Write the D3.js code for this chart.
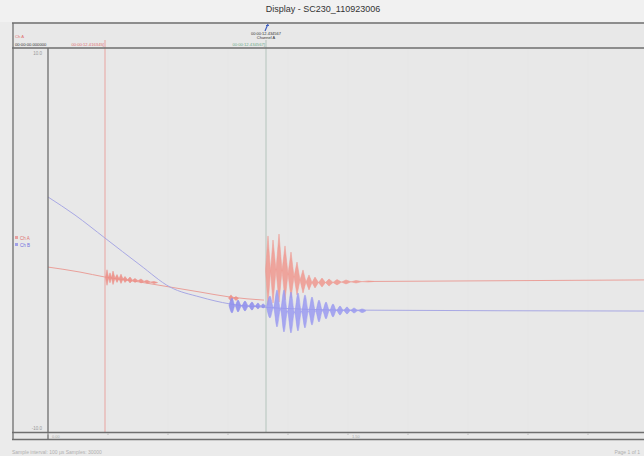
<!DOCTYPE html>
<html><head><meta charset="utf-8">
<script src="https://cdn.jsdelivr.net/npm/d3@7"></script>
<style>html,body{margin:0;padding:0;background:#ebebeb;}svg{display:block;}</style>
</head><body>
<script>
// ---- data (time in ms, value in V) ----
const title = "Display - SC230_110923006";
const yTickLabels = ["10.0", "-10.0"];
const xTickValues = [0, 300, 600, 900, 1200, 1500, 1800, 2100, 2400, 2700];
const xTickLabels = ["0.00", "", "", "", "", "1.50", "", "", "", ""];
const blueTrendT = [0, 135, 285, 460, 610, 760, 910, 1060, 1510, 2980];
const blueTrendV = [2.24, 1.30, 0.10, -1.30, -2.45, -2.97, -3.33, -3.49, -3.65, -3.70];
const redTrendT = [0, 160, 285, 460, 610, 760, 910, 1080];
const redTrendV = [-1.41, -1.67, -1.93, -2.19, -2.45, -2.71, -2.97, -3.13];
const redTailT = [1600, 2980];
const redTailV = [-2.16, -2.08];
// bursts: lobe centre time, lobe top, lobe bottom
const redBurst1T = [295, 310, 325, 345, 365, 385, 410, 435, 465, 495, 530];
const redBurst1Hi = [-1.55, -1.71, -1.62, -1.80, -1.78, -1.90, -1.93, -2.00, -2.03, -2.09, -2.16];
const redBurst1Lo = [-2.36, -2.23, -2.32, -2.21, -2.26, -2.21, -2.24, -2.21, -2.24, -2.25, -2.27];
const redBurst2T = [915, 940];
const redBurst2Hi = [-2.86, -2.94];
const redBurst2Lo = [-3.18, -3.15];
const redBurst3T = [1100, 1125, 1155, 1185, 1215, 1245, 1275, 1305, 1335, 1370, 1405, 1445, 1490, 1540, 1600];
const redBurst3Hi = [0.21, 0.00, 0.31, -0.31, -0.63, -1.15, -1.56, -1.82, -1.93, -1.98, -2.03, -2.06, -2.08, -2.11, -2.13];
const redBurst3Lo = [-3.39, -3.28, -3.23, -3.13, -3.02, -2.86, -2.76, -2.60, -2.50, -2.45, -2.40, -2.34, -2.29, -2.24, -2.19];
const blueBurst1T = [920, 950, 985, 1020, 1050, 1075];
const blueBurst1Hi = [-3.02, -3.13, -3.18, -3.23, -3.28, -3.33];
const blueBurst1Lo = [-3.80, -3.75, -3.70, -3.65, -3.59, -3.54];
const blueBurst2T = [1110, 1145, 1180, 1215, 1250, 1285, 1320, 1355, 1390, 1425, 1460, 1495, 1530, 1570];
const blueBurst2Hi = [-2.92, -2.60, -2.60, -2.71, -2.76, -2.86, -2.97, -3.13, -3.23, -3.33, -3.44, -3.49, -3.54, -3.59];
const blueBurst2Lo = [-4.06, -4.53, -4.79, -4.84, -4.74, -4.58, -4.43, -4.27, -4.11, -4.01, -3.91, -3.85, -3.80, -3.78];
const cursorT = [285, 1090];
const cursorLabels = ["00:00:12.416345[", "00:00:12.434567]"];
const cursorColors = ["#e8a4a0", "#b4c4bc"];
const cursorTextColors = ["#e07070", "#70a888"];

const W = 644, H = 456;
const svg = d3.select("body").append("svg").attr("width", W).attr("height", H)
  .style("font-family", "'Liberation Sans', Arial, sans-serif");

const x = d3.scaleLinear().domain([0, 2980]).range([48, 644]);
const y = d3.scaleLinear().domain([-10, 10]).range([432, 48]);

// backgrounds
svg.append("rect").attr("width", W).attr("height", H).attr("fill", "#ebebeb");
svg.append("rect").attr("x", 0).attr("y", 0).attr("width", W).attr("height", 22).attr("fill", "#f1f1f1");
svg.append("rect").attr("x", 13).attr("y", 23).attr("width", W - 13).attr("height", 417).attr("fill", "#e8e8e8");

svg.append("text").attr("x", 323).attr("y", 12).attr("text-anchor", "middle")
  .attr("font-size", 9).attr("fill", "#333").text(title);

// grid
const g = svg.append("g");
g.selectAll("line.grid").data(xTickValues.slice(1)).join("line")
  .attr("x1", d => x(d)).attr("x2", d => x(d)).attr("y1", 48).attr("y2", 432)
  .attr("stroke", "#e4e4e4").attr("stroke-width", 0.6);

// cursors
cursorT.forEach((t, i) => {
  svg.append("line").attr("x1", x(t)).attr("x2", x(t)).attr("y1", 40).attr("y2", 432)
    .attr("stroke", cursorColors[i]).attr("stroke-width", 1);
  svg.append("text").attr("x", x(t) - 1).attr("y", 45.5).attr("text-anchor", "end")
    .attr("font-size", 4.2).attr("fill", cursorTextColors[i]).text(cursorLabels[i]);
});

// header texts
svg.append("text").attr("x", 15).attr("y", 38).attr("font-size", 4.2).attr("fill", "#e07070").text("Ch A");
svg.append("text").attr("x", 15).attr("y", 45.5).attr("font-size", 4.2).attr("fill", "#333").text("00:00:00.000000");
svg.append("path").attr("d", `M${x(1090)+2},24 l-3,7 M${x(1090)},25.5 l3,0`).attr("stroke", "#4060c0").attr("stroke-width", 1.2).attr("fill", "none");
svg.append("text").attr("x", x(1090)).attr("y", 34.5).attr("text-anchor", "middle").attr("font-size", 4).attr("fill", "#333").text("00:00:12.434567");
svg.append("text").attr("x", x(1090)).attr("y", 38.8).attr("text-anchor", "middle").attr("font-size", 4).attr("fill", "#333").text("Channel A");

// y labels & legend
svg.append("text").attr("x", 42).attr("y", 55).attr("text-anchor", "end").attr("font-size", 4.5).attr("fill", "#999").text(yTickLabels[0]);
svg.append("text").attr("x", 42).attr("y", 430).attr("text-anchor", "end").attr("font-size", 4.5).attr("fill", "#999").text(yTickLabels[1]);
svg.append("rect").attr("x", 15).attr("y", 236).attr("width", 3).attr("height", 3).attr("fill", "#e8a0a0");
svg.append("text").attr("x", 20).attr("y", 239.5).attr("font-size", 4.5).attr("fill", "#e07070").text("Ch A");
svg.append("rect").attr("x", 15).attr("y", 243).attr("width", 3).attr("height", 3).attr("fill", "#a0a0e8");
svg.append("text").attr("x", 20).attr("y", 246.5).attr("font-size", 4.5).attr("fill", "#7070e0").text("Ch B");

// signals
svg.append("clipPath").attr("id", "c").append("rect").attr("x", 48).attr("y", 48).attr("width", 596).attr("height", 384);
const plot = svg.append("g").attr("clip-path", "url(#c)");

const line = d3.line().x(d => x(d[0])).y(d => y(d[1])).curve(d3.curveMonotoneX);
const zip = (a, b) => a.map((v, i) => [v, b[i]]);

function burstArea(T, Hi, Lo, color, curve, op) {
  const pts = [];
  T.forEach((t, i) => {
    const mid = (Hi[i] + Lo[i]) / 2;
    const wl = i > 0 ? (t - T[i - 1]) / 2 : (T[1] - T[0]) / 2;
    const wr = i < T.length - 1 ? (T[i + 1] - t) / 2 : wl;
    if (i === 0) pts.push([t - wl, mid, mid]);
    pts.push([t, Hi[i], Lo[i]]);
    const nmid = i < T.length - 1 ? (mid + (Hi[i + 1] + Lo[i + 1]) / 2) / 2 : mid;
    pts.push([t + wr, nmid, nmid]);
  });
  plot.append("path").datum(pts)
    .attr("d", d3.area().x(d => x(d[0])).y0(d => y(d[2])).y1(d => y(d[1])).curve(curve))
    .attr("fill", color).attr("fill-opacity", op)
    .attr("stroke", color).attr("stroke-width", 0.6).attr("stroke-opacity", op);
}

plot.append("path").datum(zip(redTrendT, redTrendV)).attr("d", line)
  .attr("fill", "none").attr("stroke", "#eaa09a").attr("stroke-width", 1);
plot.append("path").datum(zip(redTailT, redTailV)).attr("d", line)
  .attr("fill", "none").attr("stroke", "#eaa09a").attr("stroke-width", 1);
burstArea(redBurst1T, redBurst1Hi, redBurst1Lo, "#ec9088", d3.curveLinear, 0.9);
burstArea(redBurst2T, redBurst2Hi, redBurst2Lo, "#ec9088", d3.curveLinear, 0.9);
burstArea(redBurst3T, redBurst3Hi, redBurst3Lo, "#ee9c94", d3.curveLinear, 0.9);

plot.append("path").datum(zip(blueTrendT, blueTrendV)).attr("d", line)
  .attr("fill", "none").attr("stroke", "#a8a8e4").attr("stroke-width", 1);
burstArea(blueBurst1T, blueBurst1Hi, blueBurst1Lo, "#9090ec", d3.curveMonotoneX, 0.9);
burstArea(blueBurst2T, blueBurst2Hi, blueBurst2Lo, "#9a9af0", d3.curveMonotoneX, 0.85);

// frame
const fr = svg.append("g").attr("stroke", "#6e6e6e").attr("stroke-width", 1.3);
fr.append("line").attr("x1", 12).attr("x2", W).attr("y1", 23).attr("y2", 23);
fr.append("line").attr("x1", 12).attr("x2", W).attr("y1", 48).attr("y2", 48);
fr.append("line").attr("x1", 12).attr("x2", W).attr("y1", 432.5).attr("y2", 432.5);
fr.append("line").attr("x1", 12).attr("x2", W).attr("y1", 439.5).attr("y2", 439.5);
fr.append("line").attr("x1", 13).attr("x2", 13).attr("y1", 23).attr("y2", 440);
fr.append("line").attr("x1", 48).attr("x2", 48).attr("y1", 48).attr("y2", 440);

// x axis strip
const xa = svg.append("g");
xa.selectAll("line").data(xTickValues).join("line")
  .attr("x1", d => x(d)).attr("x2", d => x(d)).attr("y1", 433).attr("y2", 435)
  .attr("stroke", "#bbb");
xa.selectAll("text").data(xTickValues).join("text")
  .attr("x", d => x(d) + 4).attr("y", 438).attr("font-size", 4).attr("fill", "#aaa")
  .text((d, i) => xTickLabels[i]);

// footer
svg.append("text").attr("x", 12).attr("y", 454).attr("font-size", 5).attr("fill", "#b0b0b0").text("Sample interval: 100 µs   Samples: 30000");
svg.append("text").attr("x", 640).attr("y", 454).attr("text-anchor", "end").attr("font-size", 5).attr("fill", "#b0b0b0").text("Page 1 of 1");
</script>
</body></html>
